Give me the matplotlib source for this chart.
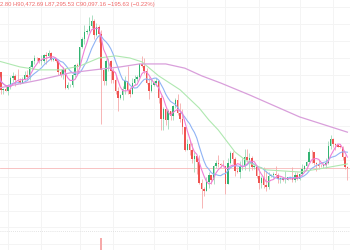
import matplotlib
matplotlib.use("Agg")
import matplotlib.pyplot as plt
import matplotlib.dates as mdates
import pandas as pd
import numpy as np

# ---- data (prices in thousands of USD), daily candles 2025-08-28 .. 2026-01-21
start_date = "2025-08-28"
end_date = "2026-01-21"

opens = [111.3, 112.6, 108.4, 108.8,
         108.2, 109.2, 111.2, 111.7, 110.7, 110.6, 110.2, 111.1, 112.0, 111.5,
         113.9, 115.4, 116.1, 115.9, 115.3, 115.3, 116.7, 116.4, 117.1, 115.6,
         115.7, 115.2, 112.7, 112.0, 113.3, 109.0, 109.6, 109.6, 112.1, 114.3,
         114.0, 118.6, 120.6, 122.2, 122.4, 123.5, 124.7, 121.4, 123.3, 121.7,
         113.2, 110.6, 115.2, 115.3, 113.0, 110.8, 108.2, 106.5, 107.2, 108.7,
         110.6, 108.4, 107.6, 110.1, 111.0, 111.6, 114.5, 114.1, 112.9, 110.0,
         108.3,
         109.6, 110.1, 110.6, 106.5, 101.5, 103.9, 101.3, 103.4, 102.3, 104.7,
         106.0, 103.0, 101.6, 99.7, 94.4, 95.6, 94.2, 92.2, 92.9, 91.5,
         86.6, 85.1, 84.7, 86.8, 88.3, 87.3, 90.5, 91.3, 90.9, 90.8,
         90.4, 86.3, 91.3, 93.5, 92.1, 89.3, 89.2, 90.4, 90.6, 92.7,
         92.0, 92.5, 90.3, 90.3, 88.2, 86.4, 87.8, 86.1, 85.5, 88.1,
         88.3, 88.6, 88.5, 87.4, 87.6, 87.2, 87.3, 87.8, 87.8, 87.1,
         88.4,
         87.5, 88.7, 89.9, 90.6, 91.5, 93.9, 93.7, 91.3, 91.0, 90.5,
         90.4, 90.8, 91.2, 95.3, 97.0, 95.6, 95.5, 95.1, 95.0, 92.6,
         90.2928]

highs = [113.5, 112.7, 108.9, 109.5,
         109.9, 111.8, 112.6, 112.2, 113.4, 111.3, 111.4, 112.9, 113.2, 114.3,
         115.5, 116.7, 116.3, 116.0, 116.8, 116.9, 117.3, 117.9, 117.4, 116.1,
         115.9, 115.4, 113.4, 113.9, 113.5, 110.3, 109.8, 112.4, 114.5, 114.8,
         118.6, 121.0, 123.9, 122.9, 125.7, 126.2, 125.1, 124.2, 123.7, 122.5,
         113.4, 115.8, 116.0, 115.5, 113.6, 111.9, 109.2, 107.6, 109.4, 111.7,
         114.0, 109.1, 111.3, 112.0, 111.9, 114.9, 116.4, 116.1, 113.6, 111.6,
         111.2,
         110.6, 111.2, 110.8, 107.3, 104.5, 104.2, 104.0, 103.4, 105.0, 106.6,
         107.5, 105.3, 104.0, 99.8, 96.8, 96.6, 96.0, 93.8, 92.9, 93.2,
         87.5, 85.6, 88.0, 89.2, 88.5, 90.7, 91.9, 93.0, 91.2, 92.0,
         90.4, 92.3, 94.1, 94.0, 92.7, 90.2, 91.8, 92.3, 94.6, 94.5,
         93.6, 92.8, 90.6, 90.4, 90.0, 88.2, 90.3, 89.4, 89.0, 88.6,
         89.0, 90.5, 88.9, 87.9, 88.0, 89.4, 88.0, 88.0, 90.3, 89.2,
         89.0,
         88.9, 90.9, 90.7, 91.8, 94.7, 94.4, 93.7, 91.5, 91.9, 91.0,
         91.2, 92.4, 96.3, 97.9, 97.2, 95.9, 95.6, 95.5, 95.2, 93.0,
         90.47269]

lows = [110.9, 107.4, 107.4, 108.1,
        107.3, 108.7, 110.4, 109.3, 110.2, 109.9, 110.0, 110.7, 110.8, 110.9,
        113.4, 114.7, 115.2, 114.8, 114.4, 114.9, 114.7, 116.2, 115.2, 115.4,
        115.1, 112.0, 111.5, 111.1, 108.6, 108.6, 109.1, 109.2, 111.6, 112.7,
        113.9, 118.3, 119.3, 121.6, 122.1, 123.1, 120.6, 121.1, 119.7, 100.5,
        109.6, 109.7, 113.0, 110.0, 110.2, 107.5, 103.6, 106.4, 106.1, 107.5,
        107.5, 106.7, 107.5, 109.7, 110.6, 111.3, 113.9, 112.2, 109.8, 106.3,
        108.0,
        109.4, 109.5, 105.3, 98.9, 98.9, 100.3, 99.3, 101.4, 101.3, 104.3,
        102.5, 100.8, 98.0, 94.0, 94.3, 93.0, 91.2, 89.2, 88.6, 86.2,
        80.6, 83.5, 84.7, 85.3, 86.2, 86.3, 90.1, 90.2, 90.3, 90.3,
        83.8, 86.2, 91.0, 90.9, 88.1, 88.9, 87.7, 89.6, 89.5, 91.7,
        89.3, 89.5, 89.8, 87.6, 85.2, 85.3, 85.4, 84.5, 85.2, 87.9,
        87.6, 87.9, 86.6, 86.4, 86.9, 86.6, 87.2, 87.4, 86.8, 86.8,
        87.2,
        87.3, 88.4, 89.3, 90.4, 91.4, 91.3, 90.8, 89.4, 89.8, 90.2,
        90.1, 90.0, 90.9, 94.6, 95.0, 94.3, 94.9, 94.8, 91.9, 89.9,
        87.29553]

closes = [112.6, 108.4, 108.8, 108.2,
          109.2, 111.2, 111.7, 110.7, 110.6, 110.2, 111.1, 112.0, 111.5, 113.9,
          115.4, 116.1, 115.9, 115.3, 115.3, 116.7, 116.4, 117.1, 115.6, 115.7,
          115.2, 112.7, 112.0, 113.3, 109.0, 109.6, 109.6, 112.1, 114.3, 114.0,
          118.6, 120.6, 122.2, 122.4, 123.5, 124.7, 121.4, 123.3, 121.7, 113.2,
          110.6, 115.2, 115.3, 113.0, 110.8, 108.2, 106.5, 107.2, 108.7, 110.6,
          108.4, 107.6, 110.1, 111.0, 111.6, 114.5, 114.1, 112.9, 110.0, 108.3,
          109.6,
          110.1, 110.6, 106.5, 101.5, 103.9, 101.3, 103.4, 102.3, 104.7, 106.0,
          103.0, 101.6, 99.7, 94.4, 95.6, 94.2, 92.2, 92.9, 91.5, 86.6,
          85.1, 84.7, 86.8, 88.3, 87.3, 90.5, 91.3, 90.9, 90.8, 90.4,
          86.3, 91.3, 93.5, 92.1, 89.3, 89.2, 90.4, 90.6, 92.7, 92.0,
          92.5, 90.3, 90.3, 88.2, 86.4, 87.8, 86.1, 85.5, 88.1, 88.3,
          88.6, 88.5, 87.4, 87.6, 87.2, 87.3, 87.8, 87.8, 87.1, 88.4,
          87.5,
          88.7, 89.9, 90.6, 91.5, 93.9, 93.7, 91.3, 91.0, 90.5, 90.4,
          90.8, 91.2, 95.3, 97.0, 95.6, 95.5, 95.1, 95.0, 92.6, 90.2928,
          90.09716]

# slower moving averages (date, value in k USD)
green_ma_dates = ["2025-08-28", "2025-09-06", "2025-09-14", "2025-09-23", "2025-10-01",
                  "2025-10-09", "2025-10-16", "2025-10-22", "2025-10-27", "2025-11-03",
                  "2025-11-12", "2025-11-20", "2025-11-24", "2025-11-28", "2025-12-05",
                  "2025-12-11", "2025-12-18", "2026-01-01", "2026-01-11", "2026-01-21"]
green_ma_values = [115.3, 113.9, 113.2, 113.2, 114.1, 116.0, 116.5, 116.0, 115.1, 111.8,
                   108.5, 104.2, 101.4, 99.0, 93.8, 91.2, 89.6, 89.1, 90.0, 91.0]

purple_ma_dates = ["2025-08-28", "2025-09-06", "2025-09-14", "2025-09-27", "2025-10-07",
                   "2025-10-18", "2025-10-26", "2025-11-06", "2025-11-14", "2025-11-21",
                   "2025-11-29", "2025-12-11", "2026-01-01", "2026-01-21"]
purple_ma_values = [108.9, 109.9, 110.8, 112.5, 113.2, 113.9, 114.6, 114.6, 113.6, 111.8,
                    110.1, 107.3, 102.1, 98.5]

volume_dates = ["2025-10-10"]
volume_values = [64.0]

legend_text = "2.80 H90,472.69 L87,295.53 C90,097.16 \u2212195.63 (\u22120.22%)"

grid_dates = ["2025-09-01", "2025-09-15", "2025-10-01", "2025-10-15", "2025-11-01",
              "2025-11-15", "2025-12-01", "2025-12-15", "2026-01-01", "2026-01-15"]
grid_prices = list(range(72, 132, 4))

# ---- figure
UP = "#33b372"
DOWN = "#ef5350"
UP_WICK = "#9fd9b8"
DOWN_WICK = "#f6a9a9"

dates = pd.date_range(start_date, end_date, freq="D")
x = mdates.date2num(dates.to_pydatetime())
o = np.array(opens); h = np.array(highs); l = np.array(lows); c = np.array(closes)

fig = plt.figure(figsize=(3.5, 2.5), dpi=100)
fig.patch.set_facecolor("white")
ax = fig.add_axes([0, 0, 1, 1])
ax.set_facecolor("white")

px_per_day = 2.39
x_sep1 = mdates.date2num(pd.Timestamp("2025-09-01").to_pydatetime())
x_left = x_sep1 - 8 / px_per_day
x_right = x_left + 350 / px_per_day
ax.set_xlim(x_left, x_right)
ax.set_ylim(70.69, 129.69)

for gd in grid_dates:
    ax.axvline(mdates.date2num(pd.Timestamp(gd).to_pydatetime()), color="#f4f4f4", lw=0.7, zorder=0)
for gp in grid_prices:
    ax.axhline(gp, color="#f4f4f4", lw=0.7, zorder=0)

up = c >= o
wick_colors = np.where(up, UP_WICK, DOWN_WICK)
ax.vlines(x, l, h, colors=wick_colors, lw=0.6, zorder=2)
body_bottom = np.minimum(o, c)
body_height = np.maximum(np.abs(c - o), 0.12)
ax.bar(x, body_height, bottom=body_bottom, width=0.62,
       color=np.where(up, UP, DOWN), linewidth=0, zorder=3)

# moving averages
close_s = pd.Series(c)
pink_ma = close_s.rolling(5, min_periods=1).mean()
blue_ma = close_s.rolling(10, min_periods=1).mean()
ax.plot(x, blue_ma, color="#8fb3f5", lw=0.8, zorder=4)
ax.plot(x, pink_ma, color="#f07fd6", lw=0.8, zorder=5)
gx = mdates.date2num(pd.to_datetime(green_ma_dates).to_pydatetime())
ax.plot(gx, green_ma_values, color="#afe8b0", lw=0.8, zorder=4)
px_ = mdates.date2num(pd.to_datetime(purple_ma_dates).to_pydatetime())
ax.plot(px_, purple_ma_values, color="#d99fdb", lw=0.9, zorder=4)

# last price line
ax.axhline(c[-1], color="#f7b8b8", lw=0.6, zorder=1)

# pane separator (dotted)
ax.plot([0, 1], [1 - 231 / 250, 1 - 231 / 250], transform=ax.transAxes,
        color="#dadada", lw=0.6, ls=(0, (1, 1.5)), zorder=1)

for s in ax.spines.values():
    s.set_visible(False)
ax.set_xticks([]); ax.set_yticks([])

# volume overlay
axv = fig.add_axes([0, 0, 1, 0.076], sharex=ax)
axv.patch.set_alpha(0)
vx = mdates.date2num(pd.to_datetime(volume_dates).to_pydatetime())
axv.bar(vx, volume_values, width=0.62, color="#f6a9a9", linewidth=0)
axv.set_ylim(0, 101)
axv.axis("off")
axv.set_xlim(x_left, x_right)

fig.text(0.0, 1 - 4.5 / 250, legend_text, fontsize=4.2, color="#f06a6a",
         va="center", ha="left", family=["Liberation Sans", "DejaVu Sans"])

fig.savefig("out.png", dpi=100, facecolor="white")
